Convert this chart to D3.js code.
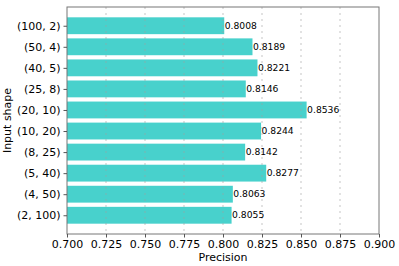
<!DOCTYPE html>
<html>
<head>
<meta charset="utf-8">
<script src="https://cdn.jsdelivr.net/npm/d3@7"></script>
<style>
  body { margin: 0; background: #fff; }
  text { font-family: "DejaVu Sans", sans-serif; fill: #000; }
</style>
</head>
<body>
<svg width="399" height="266"></svg>
<script>
// data, top bar first
var shapes = ["(100, 2)", "(50, 4)", "(40, 5)", "(25, 8)", "(20, 10)",
              "(10, 20)", "(8, 25)", "(5, 40)", "(4, 50)", "(2, 100)"];
var precision = [0.8008, 0.8189, 0.8221, 0.8146, 0.8536,
                 0.8244, 0.8142, 0.8277, 0.8063, 0.8055];
var xTicks = [0.700, 0.725, 0.750, 0.775, 0.800, 0.825, 0.850, 0.875, 0.900];

var svg = d3.select("svg");
// plot box (window.top is reserved, so use other names)
var plotL = 67, plotR = 379, plotT = 7, plotB = 234;

var x = d3.scaleLinear().domain([0.7, 0.9]).range([plotL, plotR]);
// matplotlib style limits: -0.89 .. 9.89
var y = d3.scaleLinear().domain([-0.89, shapes.length - 1 + 0.89]).range([plotT, plotB]);
var barH = y(0.4) - y(-0.4);

// bars
svg.append("g").selectAll("rect")
  .data(precision)
  .enter().append("rect")
  .attr("x", x(0.7))
  .attr("y", function(d, i) { return y(i) - barH / 2; })
  .attr("width", function(d) { return x(d) - x(0.7); })
  .attr("height", barH)
  .attr("fill", "#48D1CC");

// dotted grid, drawn over the bars but faint
svg.append("g").selectAll("line")
  .data(xTicks.slice(1, -1))
  .enter().append("line")
  .attr("x1", function(d) { return x(d); })
  .attr("x2", function(d) { return x(d); })
  .attr("y1", plotT)
  .attr("y2", plotB)
  .attr("stroke", "#a0a0a0")
  .attr("stroke-opacity", 0.3)
  .attr("stroke-width", 2)
  .attr("stroke-dasharray", "2,4");

// value labels
svg.append("g").selectAll("text")
  .data(precision)
  .enter().append("text")
  .attr("x", function(d) { return x(d) + 0.5; })
  .attr("y", function(d, i) { return y(i); })
  .attr("dy", "0.35em")
  .style("font-size", "9.2px")
  .text(function(d) { return d.toFixed(4); });

// frame
svg.append("rect")
  .attr("x", plotL).attr("y", plotT)
  .attr("width", plotR - plotL).attr("height", plotB - plotT)
  .attr("fill", "none").attr("stroke", "#777").attr("stroke-width", 1);

// x axis
var xAxis = svg.append("g")
  .attr("transform", "translate(0," + plotB + ")")
  .call(d3.axisBottom(x).tickValues(xTicks).tickFormat(d3.format(".3f")).tickSize(3.5).tickPadding(3));
xAxis.select(".domain").remove();
xAxis.selectAll("line").attr("stroke", "#555");
xAxis.selectAll("text").style("font-size", "11px").style("font-family", "DejaVu Sans");

// y axis
var yAxis = svg.append("g")
  .attr("transform", "translate(" + plotL + ",0)")
  .call(d3.axisLeft(y).tickValues(d3.range(shapes.length))
        .tickFormat(function(i) { return shapes[i]; }).tickSize(3.5).tickPadding(3));
yAxis.select(".domain").remove();
yAxis.selectAll("line").attr("stroke", "#555");
yAxis.selectAll("text").style("font-size", "11px").style("font-family", "DejaVu Sans");

// axis titles
svg.append("text")
  .attr("x", (plotL + plotR) / 2)
  .attr("y", 261)
  .attr("text-anchor", "middle")
  .style("font-size", "11px")
  .text("Precision");

svg.append("text")
  .attr("transform", "translate(11," + (plotT + plotB) / 2 + ") rotate(-90)")
  .attr("text-anchor", "middle")
  .style("font-size", "11px")
  .text("Input shape");
</script>
</body>
</html>
